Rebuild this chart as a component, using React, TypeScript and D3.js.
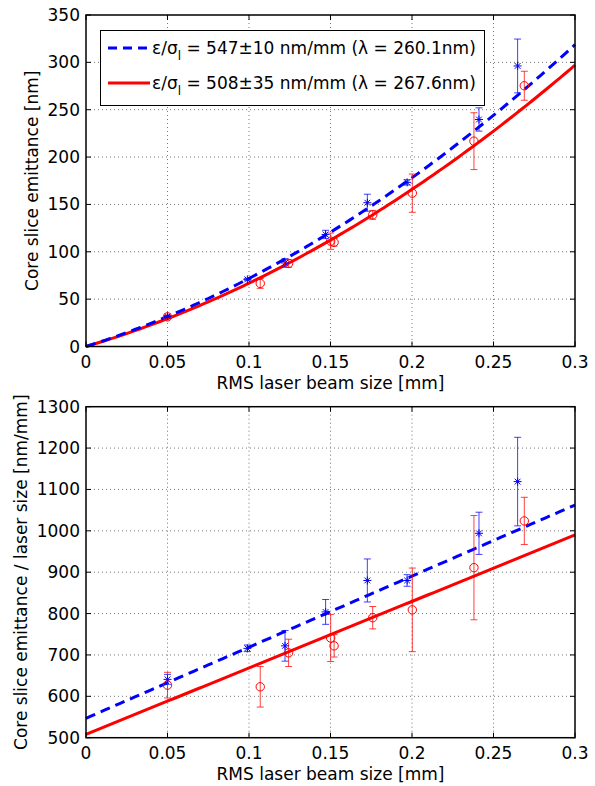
import React from "react";
import * as d3 from "d3";

// ---------- data ----------
const blueX = [0.05, 0.099, 0.1221, 0.147, 0.1726, 0.197, 0.2411, 0.2648];
const blueEmit = [32.0, 70.9, 88.2, 118.3, 151.8, 173.3, 239.7, 296.2];
const blueEmitErr = [0.6, 1.0, 4.5, 4.4, 9.0, 2.8, 12.3, 28.4];
const blueRatio = [641, 716, 722, 804, 880, 880, 994, 1119];
const blueRatioErr = [12, 8, 37, 30, 52, 14, 51, 107];

const redX = [0.05, 0.1069, 0.1243, 0.1501, 0.1522, 0.1759, 0.2002, 0.238, 0.2689];
const redEmit = [31.3, 66.6, 87.7, 111.2, 110.0, 139.0, 161.9, 216.8, 275.3];
const redEmitErr = [1.5, 5.2, 4.1, 8.6, 4.0, 4.7, 20.2, 30.0, 15.3];
const redRatio = [627, 623, 705, 741, 722, 790, 809, 911, 1024];
const redRatioErr = [31, 49, 33, 57, 27, 27, 101, 126, 57];

// fit parameters: ratio = intercept + slope * size
const blueFit = { intercept: 547, slope: 1718 };
const redFit = { intercept: 508, slope: 1607 };

const xTicks = [0, 0.05, 0.1, 0.15, 0.2, 0.25, 0.3];
const xTickLabels = ["0", "0.05", "0.1", "0.15", "0.2", "0.25", "0.3"];
const topYTicks = [0, 50, 100, 150, 200, 250, 300, 350];
const botYTicks = [500, 600, 700, 800, 900, 1000, 1100, 1200, 1300];

const legendLabels = [
  { pre: "ε/σ", sub: "l", post: " = 547±10 nm/mm (λ = 260.1nm)" },
  { pre: "ε/σ", sub: "l", post: " = 508±35 nm/mm (λ = 267.6nm)" },
];

const BLUE = "#0000ff";
const RED = "#ff0000";
const FONT = "DejaVu Sans, sans-serif";

const left = 86;
const right = 575;

function Star({ cx, cy, s = 4, color }: any) {
  const d = s * 0.72;
  return (
    <g stroke={color} strokeWidth={1}>
      <line x1={cx - s} y1={cy} x2={cx + s} y2={cy} />
      <line x1={cx} y1={cy - s} x2={cx} y2={cy + s} />
      <line x1={cx - d} y1={cy - d} x2={cx + d} y2={cy + d} />
      <line x1={cx - d} y1={cy + d} x2={cx + d} y2={cy - d} />
    </g>
  );
}

function Panel({ top, bottom, yDomain, yTicks, title, titleX, blueY, blueE, redY, redE, fitFn, legend }: any) {
  const x = d3.scaleLinear().domain([0, 0.3]).range([left, right]);
  const y = d3.scaleLinear().domain(yDomain).range([bottom, top]);
  const fx = d3.range(0, 0.3001, 0.003);
  const line = d3
    .line<number>()
    .x((v) => x(v))
    .y((v, i) => 0);
  const mk = (fit: any) =>
    d3
      .line<number>()
      .x((v) => x(v))
      .y((v) => y(fitFn(fit, v)))(fx) as string;
  const cap = 3.5;
  const errBars = (xs: number[], ys: number[], es: number[], color: string) =>
    xs.map((xv, i) => {
      const px = x(xv);
      const y1 = y(ys[i] + es[i]);
      const y2 = y(ys[i] - es[i]);
      return (
        <g key={i} stroke={color} strokeWidth={1} strokeOpacity={0.75}>
          <line x1={px} x2={px} y1={y1} y2={y2} />
          <line x1={px - cap} x2={px + cap} y1={y1} y2={y1} />
          <line x1={px - cap} x2={px + cap} y1={y2} y2={y2} />
        </g>
      );
    });
  const midY = (top + bottom) / 2;
  return (
    <g>
      {/* grid */}
      <g stroke="#777" strokeWidth={1} strokeDasharray="1 3">
        {xTicks.slice(1, -1).map((t) => (
          <line key={t} x1={x(t)} x2={x(t)} y1={top} y2={bottom} />
        ))}
        {yTicks.slice(1, -1).map((t: number) => (
          <line key={t} x1={left} x2={right} y1={y(t)} y2={y(t)} />
        ))}
      </g>
      {/* ticks inside */}
      <g stroke="#000" strokeWidth={1}>
        {xTicks.map((t) => (
          <g key={t}>
            <line x1={x(t)} x2={x(t)} y1={bottom} y2={bottom - 5} />
            <line x1={x(t)} x2={x(t)} y1={top} y2={top + 5} />
          </g>
        ))}
        {yTicks.map((t: number) => (
          <g key={t}>
            <line x1={left} x2={left + 5} y1={y(t)} y2={y(t)} />
            <line x1={right} x2={right - 5} y1={y(t)} y2={y(t)} />
          </g>
        ))}
      </g>
      {/* fits */}
      <path d={mk(redFit)} fill="none" stroke={RED} strokeWidth={3} />
      <path d={mk(blueFit)} fill="none" stroke={BLUE} strokeWidth={3} strokeDasharray="10 6" />
      {/* error bars */}
      {errBars(blueX, blueY, blueE, BLUE)}
      {errBars(redX, redY, redE, RED)}
      {blueX.map((xv, i) => (
        <Star key={"b" + i} cx={x(xv)} cy={y(blueY[i])} color={BLUE} />
      ))}
      {redX.map((xv, i) => (
        <circle key={"r" + i} cx={x(xv)} cy={y(redY[i])} r={4.2} fill="none" stroke={RED} strokeWidth={1} />
      ))}
      {/* frame */}
      <rect x={left} y={top} width={right - left} height={bottom - top} fill="none" stroke="#000" strokeWidth={1.5} />
      {/* labels */}
      <g fontFamily={FONT} fontSize={17} fill="#000">
        {xTicks.map((t, i) => (
          <text key={t} x={x(t)} y={bottom + 21} textAnchor="middle">
            {xTickLabels[i]}
          </text>
        ))}
        {yTicks.map((t: number) => (
          <text key={t} x={80} y={y(t) + 6} textAnchor="end">
            {t}
          </text>
        ))}
        <text x={(left + right) / 2} y={bottom + 42} textAnchor="middle">
          RMS laser beam size [mm]
        </text>
        <text transform={`translate(${titleX},${midY}) rotate(-90)`} textAnchor="middle">
          {title}
        </text>
      </g>
      {legend && (
        <g fontFamily={FONT} fontSize={17}>
          <rect x={100.5} y={30.5} width={384} height={75} fill="#fff" stroke="#000" strokeWidth={1} />
          {legendLabels.map((l, i) => {
            const cy = 48 + i * 35;
            return (
              <g key={i}>
                <line
                  x1={108}
                  x2={150}
                  y1={cy}
                  y2={cy}
                  stroke={i === 0 ? BLUE : RED}
                  strokeWidth={3}
                  strokeDasharray={i === 0 ? "9 6" : undefined}
                />
                <text x={152} y={cy + 6}>
                  {l.pre}
                  <tspan fontSize={12} dy={6}>
                    {l.sub}
                  </tspan>
                  <tspan dy={-6}>{l.post}</tspan>
                </text>
              </g>
            );
          })}
        </g>
      )}
    </g>
  );
}

export default function App() {
  const emitFn = (fit: any, v: number) => v * (fit.intercept + fit.slope * v);
  const ratioFn = (fit: any, v: number) => fit.intercept + fit.slope * v;
  return (
    <svg width={595} height={786} style={{ position: "absolute", left: 0, top: 0, background: "#fff" }}>
      <rect width={595} height={786} fill="#fff" />
      <Panel
        top={15}
        bottom={346.5}
        yDomain={[0, 350]}
        yTicks={topYTicks}
        title="Core slice emittance [nm]"
        titleX={38}
        blueY={blueEmit}
        blueE={blueEmitErr}
        redY={redEmit}
        redE={redEmitErr}
        fitFn={emitFn}
        legend
      />
      <Panel
        top={406.7}
        bottom={737.7}
        yDomain={[500, 1300]}
        yTicks={botYTicks}
        title="Core slice emittance / laser size [nm/mm]"
        titleX={27}
        blueY={blueRatio}
        blueE={blueRatioErr}
        redY={redRatio}
        redE={redRatioErr}
        fitFn={ratioFn}
      />
    </svg>
  );
}
